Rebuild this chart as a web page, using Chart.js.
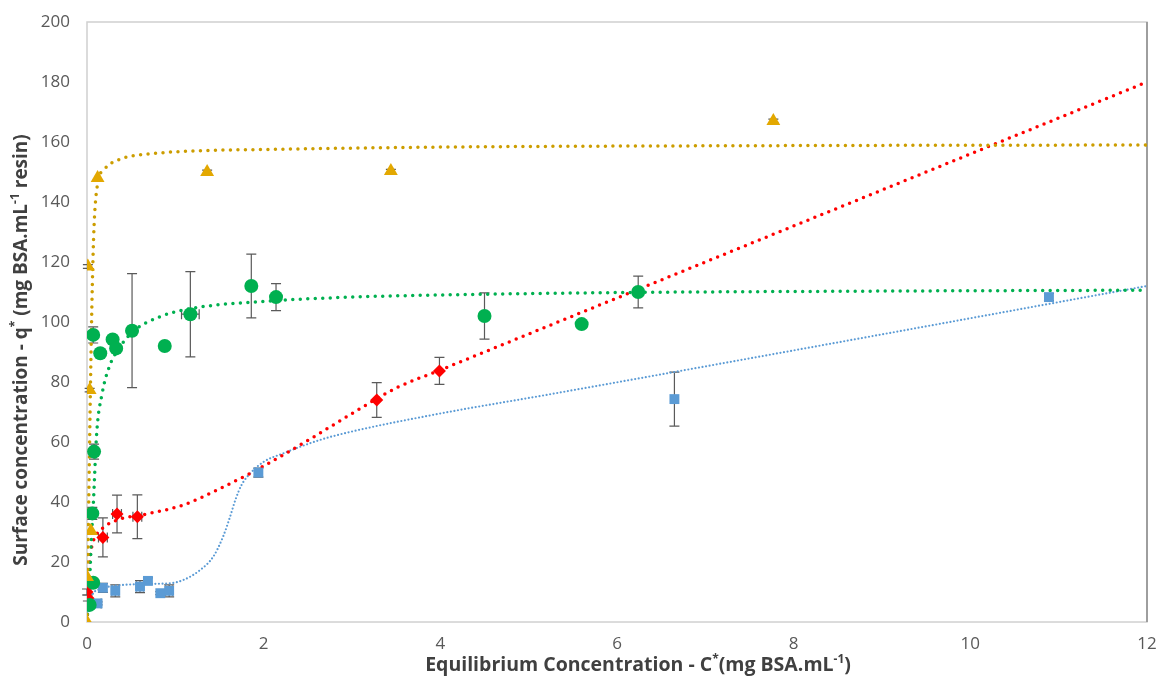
<!DOCTYPE html>
<html>
<head>
<meta charset="utf-8">
<script src="https://cdn.jsdelivr.net/npm/chart.js@4"></script>
<style>
  html, body { margin: 0; padding: 0; background: #fff; }
  #wrap { width: 1160px; height: 679px; }
</style>
</head>
<body>
<div id="wrap"><canvas id="isotherm" width="1160" height="679"></canvas></div>
<script>
// BSA adsorption isotherms — measured points with error bars + fitted curves

// ─── Measured points ─────────────────────────────────────────────────────────
const goldX   = [0, 0, 0.045, 0.03, 0.01, 0.12, 1.36, 3.44, 7.77];
const goldY   = [0, 15, 30.3, 77.3, 118.5, 148, 150, 150.3, 167];
const goldErr = [0, 0, 0, 0.6, 0.6, 0, 0.6, 0.6, 0.6];

const greenX    = [0.03, 0.07, 0.06, 0.08, 0.15, 0.07, 0.29, 0.33, 0.51, 0.88, 1.17, 1.86, 2.14, 4.5, 5.6, 6.24];
const greenY    = [5.7, 13.1, 36.2, 56.8, 89.6, 95.7, 94.2, 91.2, 97.1, 92, 102.6, 112, 108.3, 102, 99.3, 110];
const greenErr  = [0, 0, 2, 2.5, 0, 2.7, 0, 0, 19, 0, 14.2, 10.6, 4.5, 7.7, 0, 5.3];
const greenXErr = [0, 0, 0, 0, 0, 0.02, 0, 0, 0.05, 0, 0.1, 0.03, 0, 0, 0, 0];

const redX    = [0, 0.01, 0.18, 0.34, 0.57, 3.28, 3.99];
const redY    = [10, 8, 28.2, 36, 35.1, 74, 83.7];
const redErr  = [1, 1, 6.5, 6.3, 7.3, 5.8, 4.5];
const redXErr = [0, 0, 0.05, 0.05, 0.05, 0, 0];

const blueX    = [0.12, 0.18, 0.32, 0.6, 0.69, 0.83, 0.93, 1.94, 6.65, 10.89];
const blueY    = [6.2, 11.4, 10.4, 11.8, 13.7, 9.6, 10.4, 49.8, 74.3, 108.3];
const blueErr  = [0.5, 1.5, 2, 2, 1, 0.5, 2, 1.5, 9, 1.2];
const blueXErr = [0.04, 0.04, 0.04, 0.04, 0, 0, 0.04, 0, 0, 0];

// ─── Fitted curves ──────────────────────────────────────────────────────────
const goldFitX = [0, 0.02, 0.04, 0.06, 0.08, 0.12, 0.2, 0.4, 0.7, 1.2, 2, 4, 8, 12];
const goldFitY = [0, 40, 80, 112, 132, 146, 151, 154.5, 156, 157, 157.5, 158.3, 158.8, 159];

const greenFitX = [0, 0.03, 0.05, 0.07, 0.11, 0.17, 0.26, 0.35, 0.52, 0.83, 1.2, 1.96, 3, 4, 6, 9, 12];
const greenFitY = [0, 14, 28, 38.4, 63, 76, 85.7, 90.7, 96.8, 101.8, 104.6, 106.8, 108.3, 109, 109.8, 110.3, 110.6];

const redFitX = [0, 0.01, 0.03, 0.07, 0.15, 0.3, 0.71, 1.09, 1.47, 1.85, 2.22, 2.6, 3, 3.5, 4, 6, 8, 10, 12];
const redFitY = [0, 10, 20, 26.8, 30.5, 33.5, 36.2, 39, 44, 49.6, 55.7, 62.3, 69.5, 78, 84, 108, 132, 156, 180];

const blueFitX = [0, 0.02, 0.06, 0.15, 0.3, 0.71, 0.94, 1.09, 1.28, 1.43, 1.54, 1.62, 1.68, 1.75, 1.85, 2, 2.22, 2.64, 3, 4, 5.24, 8.07, 12];
const blueFitY = [0, 5, 9, 11, 12, 12.7, 12.9, 14, 17.3, 21.8, 28.4, 35.1, 40.7, 45.7, 49.6, 53.4, 56.2, 60.7, 63.5, 69.5, 75.9, 90.9, 112];

// ─── Ticks and titles ────────────────────────────────────────────────────────
const xTicks = [0, 2, 4, 6, 8, 10, 12];
const yTicks = [0, 20, 40, 60, 80, 100, 120, 140, 160, 180, 200];

const xTitleText = ['Equilibrium Concentration - C', '*', '(mg BSA.mL', '-1', ')'];
const xTitleSup  = [false, true, false, true, false];
const yTitleText = ['Surface concentration - q', '*', ' (mg BSA.mL', '-1', ' resin)'];
const yTitleSup  = [false, true, false, true, false];

const FONT = '"Open Sans", "Noto Sans", sans-serif';
const pts = (xs, ys) => xs.map((x, i) => ({ x, y: ys[i] }));

// error bars drawn with the chart's own scales
const errorBars = {
  id: 'errorBars',
  beforeDatasetsDraw(chart) {
    const { ctx, scales: { x, y } } = chart;
    ctx.save();
    ctx.strokeStyle = '#5a5a5a';
    ctx.lineWidth = 1.2;
    chart.data.datasets.forEach(ds => {
      if (!ds.errY) return;
      ds.data.forEach((p, i) => {
        const px = x.getPixelForValue(p.x);
        const py = y.getPixelForValue(p.y);
        const ey = ds.errY[i] || 0;
        const ex = ds.errX ? ds.errX[i] || 0 : 0;
        ctx.beginPath();
        if (ey > 0) {
          const t = y.getPixelForValue(p.y + ey), b = y.getPixelForValue(p.y - ey);
          ctx.moveTo(px, t); ctx.lineTo(px, b);
          ctx.moveTo(px - 5, t); ctx.lineTo(px + 5, t);
          ctx.moveTo(px - 5, b); ctx.lineTo(px + 5, b);
        }
        if (ex > 0) {
          const l = x.getPixelForValue(p.x - ex), r = x.getPixelForValue(p.x + ex);
          ctx.moveTo(l, py); ctx.lineTo(r, py);
          ctx.moveTo(l, py - 5); ctx.lineTo(l, py + 5);
          ctx.moveTo(r, py - 5); ctx.lineTo(r, py + 5);
        }
        ctx.stroke();
      });
    });
    ctx.restore();
  },
};

const plotFrame = {
  id: 'plotFrame',
  beforeDatasetsDraw(chart) {
    const { ctx, chartArea: a } = chart;
    ctx.save();
    ctx.lineWidth = 1.5;
    ctx.strokeStyle = '#d0d0d0';
    ctx.strokeRect(a.left, a.top, a.right - a.left, a.bottom - a.top);
    ctx.strokeStyle = '#8a8a8a';
    ctx.beginPath();
    ctx.moveTo(a.right, a.top); ctx.lineTo(a.right, a.bottom);
    ctx.stroke();
    ctx.restore();
  },
};

// axis titles with real superscripts
function drawRich(ctx, texts, sups, size) {
  const full = `bold ${size}px ${FONT}`, small = `bold ${Math.round(size * 0.62)}px ${FONT}`;
  let w = 0;
  texts.forEach((t, i) => { ctx.font = sups[i] ? small : full; w += ctx.measureText(t).width; });
  let x = -w / 2;
  texts.forEach((t, i) => {
    ctx.font = sups[i] ? small : full;
    ctx.fillText(t, x, sups[i] ? -size * 0.42 : 0);
    x += ctx.measureText(t).width;
  });
}

const axisTitles = {
  id: 'axisTitles',
  afterDraw(chart) {
    const { ctx, chartArea: a } = chart;
    ctx.save();
    ctx.fillStyle = '#404040';
    ctx.textBaseline = 'alphabetic';
    ctx.textAlign = 'left';
    ctx.save();
    ctx.translate((a.left + a.right) / 2 + 21, chart.height - 8);
    drawRich(ctx, xTitleText, xTitleSup, 19.5);
    ctx.restore();
    ctx.save();
    ctx.translate(27, (a.top + a.bottom) / 2 + 28);
    ctx.rotate(-Math.PI / 2);
    drawRich(ctx, yTitleText, yTitleSup, 19);
    ctx.restore();
    ctx.restore();
  },
};

const marker = (label, xs, ys, err, xerr, style, color, r) => ({
  label, data: pts(xs, ys), errY: err, errX: xerr,
  pointStyle: style, pointRadius: r, pointHoverRadius: r,
  backgroundColor: color, borderColor: color, borderWidth: 0, showLine: false,
});

const fit = (label, xs, ys, color, width, dash) => ({
  label, data: pts(xs, ys), showLine: true, pointRadius: 0,
  borderColor: color, borderWidth: width, borderDash: dash, borderCapStyle: 'round',
  cubicInterpolationMode: 'monotone', fill: false,
});

const tickFont = { family: FONT, size: 17 };

new Chart(document.getElementById('isotherm'), {
  type: 'scatter',
  data: {
    datasets: [
      marker('Gold', goldX, goldY, goldErr, null, 'triangle', '#e3a800', 8),
      marker('Green', greenX, greenY, greenErr, greenXErr, 'circle', '#00b050', 7),
      marker('Red', redX, redY, redErr, redXErr, 'rectRot', '#ff0000', 6.5),
      marker('Blue', blueX, blueY, blueErr, blueXErr, 'rect', '#5b9bd5', 7),
      fit('Gold fit', goldFitX, goldFitY, '#cc9d00', 3.5, [0, 7.5]),
      fit('Green fit', greenFitX, greenFitY, '#00b050', 3.5, [0, 7.5]),
      fit('Red fit', redFitX, redFitY, '#ff0000', 3.5, [0, 7.5]),
      fit('Blue fit', blueFitX, blueFitY, '#5b9bd5', 2.2, [0, 3.6]),
    ],
  },
  options: {
    responsive: false,
    animation: false,
    layout: { padding: { top: 22, right: 13, left: 0, bottom: 0 } },
    plugins: { legend: { display: false }, tooltip: { enabled: false } },
    scales: {
      x: {
        type: 'linear', min: 0, max: 12,
        afterBuildTicks: s => { s.ticks = xTicks.map(v => ({ value: v })); },
        afterFit: s => { s.height = 57; s.paddingLeft = 0; s.paddingRight = 0; },
        grid: { display: false, drawTicks: false },
        border: { display: false },
        ticks: { font: tickFont, color: '#595959', padding: 12, maxRotation: 0 },
      },
      y: {
        type: 'linear', min: 0, max: 200,
        afterBuildTicks: s => { s.ticks = yTicks.map(v => ({ value: v })); },
        afterFit: s => { s.width = 87; s.paddingTop = 0; s.paddingBottom = 0; },
        grid: { display: false, drawTicks: false },
        border: { display: false },
        ticks: { font: tickFont, color: '#595959', padding: 17 },
      },
    },
  },
  plugins: [plotFrame, errorBars, axisTitles],
});
</script>
</body>
</html>
